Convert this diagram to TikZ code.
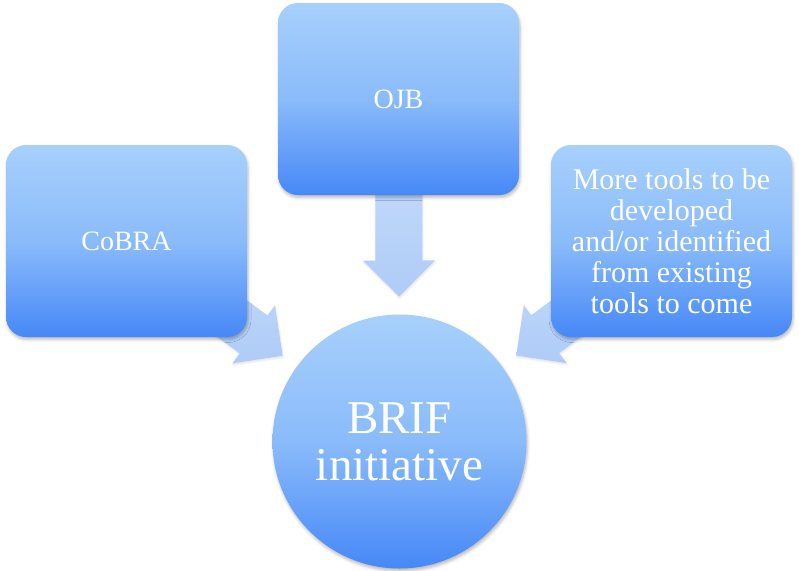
\documentclass[tikz,border=0pt]{standalone}
\usepackage{fontspec}
\setmainfont{Liberation Serif}
\usetikzlibrary{calc,shadows.blur}
\pgfdeclarelayer{background}
\pgfsetlayers{background,main}
\definecolor{boxtop}{RGB}{167,208,252}
\definecolor{boxmid}{RGB}{138,187,250}
\definecolor{boxbot}{RGB}{70,136,247}
\definecolor{arrtop}{RGB}{192,215,250}
\definecolor{arrbot}{RGB}{174,204,247}
\tikzset{
  blob/.style={top color=boxtop, bottom color=boxbot, middle color=boxmid,
    text=white, align=center, inner sep=6pt,
    blur shadow={shadow xshift=1pt, shadow yshift=-2.5pt, shadow blur radius=3pt, shadow opacity=28}},
  toolbox/.style={blob, rectangle, rounded corners=20pt, minimum width=241pt, minimum height=192pt},
  hub/.style={blob, circle, minimum size=254pt},
  blockarrow/.style={top color=arrtop, bottom color=arrbot,
    blur shadow={shadow xshift=0.5pt, shadow yshift=-1.5pt, shadow blur radius=2pt, shadow opacity=12}},
}
\newcommand\feedarrow[3]{% #1 source node, #2 target node, #3 prefix
  \coordinate (#3tip) at ($(#2.center)!145pt!(#1.center)$);
  \coordinate (#3head) at ($(#3tip)!36pt!(#1.center)$);
  \coordinate (#3tail) at ($(#3tip)!105pt!(#1.center)$);
  \path[blockarrow] (#3tip)
    -- ($(#3head)!36pt!90:(#1.center)$)
    -- ($(#3head)!23.5pt!90:(#1.center)$)
    -- ($(#3tail)!23.5pt!90:(#1.center)$)
    -- ($(#3tail)!23.5pt!-90:(#1.center)$)
    -- ($(#3head)!23.5pt!-90:(#1.center)$)
    -- ($(#3head)!36pt!-90:(#1.center)$)
    -- cycle;
}
\begin{document}
\begin{tikzpicture}[x=1pt,y=-1pt]
\useasboundingbox (0,0) rectangle (799,570);
\node[toolbox, font=\fontsize{28}{31}\selectfont] (cobra) at (126.5,241) {CoBRA};
\node[toolbox, font=\fontsize{28}{31}\selectfont] (ojb) at (398.5,99) {OJB};
\node[toolbox, font=\fontsize{30}{31}\selectfont] (tools) at (671.5,241)
  {More tools to be\\developed\\and/or identified\\from existing\\tools to come};
\node[hub, font=\fontsize{47}{47}\selectfont] (brif) at (399.5,441.5) {BRIF\\initiative};
\begin{pgfonlayer}{background}
  \feedarrow{cobra}{brif}{a}
  \feedarrow{ojb}{brif}{b}
  \feedarrow{tools}{brif}{c}
\end{pgfonlayer}
\end{tikzpicture}
\end{document}
